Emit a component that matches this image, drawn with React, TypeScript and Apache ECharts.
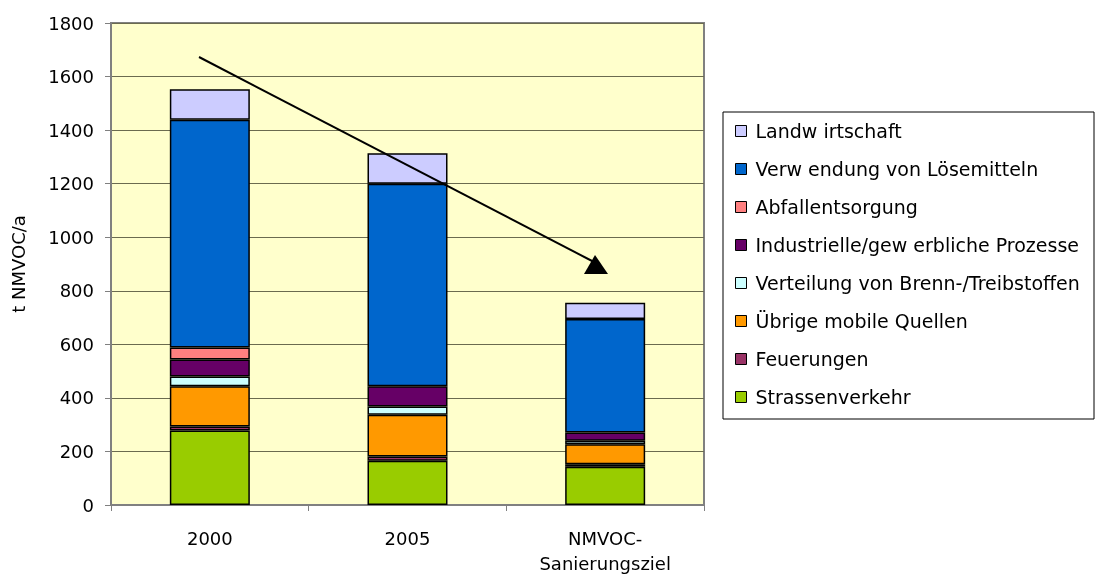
import React, { useEffect, useRef } from "react";
import * as echarts from "echarts";

const categories = ["2000", "2005", "NMVOC-\nSanierungsziel"];
const yTicks = { min: 0, max: 1800, interval: 200 };

const seriesNames = [
  "Strassenverkehr",
  "Feuerungen",
  "Übrige mobile Quellen",
  "Verteilung von Brenn-/Treibstoffen",
  "Industrielle/gew erbliche Prozesse",
  "Abfallentsorgung",
  "Verw endung von Lösemitteln",
  "Landw irtschaft",
];
const strassenverkehr = [278, 165, 143];
const feuerungen = [15, 16, 9];
const uebrigeMobile = [150, 156, 75];
const verteilung = [37, 31, 13];
const industrie = [63, 75, 31];
const abfall = [45, 0, 0];
const loesemittel = [851, 757, 424];
const landwirtschaft = [114, 114, 60];

const seriesValues = [
  strassenverkehr,
  feuerungen,
  uebrigeMobile,
  verteilung,
  industrie,
  abfall,
  loesemittel,
  landwirtschaft,
];
const seriesColors = [
  "#99CC00",
  "#993366",
  "#FF9900",
  "#CCFFFF",
  "#660066",
  "#FF8080",
  "#0066CC",
  "#CCCCFF",
];

const FONT = "'DejaVu Sans', sans-serif";
const FS = 18;

export default function App() {
  const ref = useRef<HTMLDivElement>(null);
  useEffect(() => {
    if (!ref.current) return;
    const chart = echarts.init(ref.current, undefined, { renderer: "svg" });
    const series = seriesNames.map((name, i) => ({
      name,
      type: "bar",
      stack: "total",
      barWidth: 80,
      data: seriesValues[i].map((v) => (v === 0 ? null : v)),
      itemStyle: {
        color: seriesColors[i],
        borderColor: "#000",
        borderWidth: 1.5,
      },
    }));
    chart.setOption({
      animation: false,
      textStyle: { fontFamily: FONT },
      grid: {
        left: 111,
        right: 392,
        top: 23,
        bottom: 74,
        show: true,
        backgroundColor: "#FFFFCC",
        borderColor: "#808080",
        borderWidth: 2,
      },
      xAxis: {
        type: "category",
        data: categories,
        axisLine: { lineStyle: { color: "#808080", width: 2 } },
        axisTick: { show: true, length: 6, lineStyle: { color: "#808080" } },
        axisLabel: {
          color: "#000",
          fontSize: FS,
          fontFamily: FONT,
          margin: 21,
          lineHeight: 25,
        },
      },
      yAxis: {
        type: "value",
        min: yTicks.min,
        max: yTicks.max,
        interval: yTicks.interval,
        name: "t NMVOC/a",
        nameLocation: "middle",
        nameGap: 84,
        nameRotate: 90,
        nameTextStyle: { color: "#000", fontSize: FS, fontFamily: FONT },
        axisLine: { show: true, lineStyle: { color: "#808080", width: 2 } },
        axisTick: { show: true, length: 6, lineStyle: { color: "#808080" } },
        axisLabel: {
          color: "#000",
          fontSize: FS,
          fontFamily: FONT,
          margin: 17,
          formatter: (v: number) => String(v),
        },
        splitLine: { lineStyle: { color: "#6B6B4F", width: 1 } },
      },
      legend: {
        orient: "vertical",
        left: 730,
        top: 115,
        padding: 5,
        data: [...seriesNames].reverse(),
        itemWidth: 11,
        itemHeight: 11,
        itemGap: 16,
        icon: "rect",
        itemStyle: { borderColor: "#000", borderWidth: 1 },
        textStyle: {
          color: "#000",
          fontSize: 19,
          fontFamily: FONT,
          lineHeight: 22,
          padding: [0, 0, 0, 4],
        },
      },
      graphic: [
        {
          type: "rect",
          shape: { x: 723, y: 112, width: 371, height: 307 },
          style: { fill: "none", stroke: "#000", lineWidth: 1 },
          z: 0,
        },
        {
          type: "line",
          shape: { x1: 199, y1: 57, x2: 594, y2: 262 },
          style: { stroke: "#000", lineWidth: 2 },
          z: 100,
        },
        {
          type: "polygon",
          shape: {
            points: [
              [595, 255],
              [584, 274],
              [608, 274],
            ],
          },
          style: { fill: "#000" },
          z: 100,
        },
      ],
      series,
    });
    return () => chart.dispose();
  }, []);
  return (
    <div
      ref={ref}
      style={{ position: "fixed", left: 0, top: 0, width: 1096, height: 579 }}
    />
  );
}
